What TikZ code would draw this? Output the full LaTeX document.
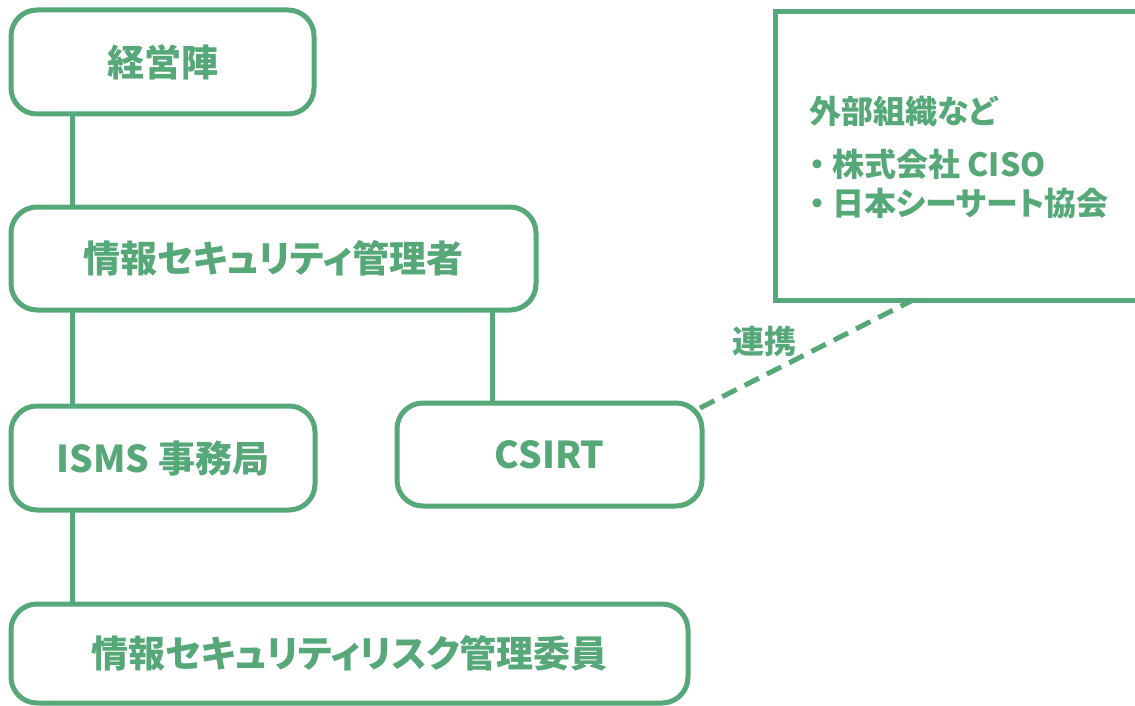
\documentclass[tikz,border=0pt]{standalone}
\usepackage{fontspec}
\newfontfamily\jp{Noto Sans CJK JP}[RawFeature=+palt]
\usetikzlibrary{calc}
\definecolor{grn}{RGB}{86,168,121}
\tikzset{
  orgbox/.style={draw=grn, line width=5pt, rounded corners=26pt, outer sep=0pt, inner sep=0pt,
    text=grn, font=\jp\bfseries\fontsize{37}{44}\selectfont, fill=white},
  extbox/.style={draw=grn, line width=5pt, outer sep=0pt, inner sep=0pt, fill=white},
  link/.style={draw=grn, line width=5pt},
  dlink/.style={draw=grn, line width=5pt, dash pattern=on 16pt off 9pt},
  smalltext/.style={text=grn, font=\jp\bfseries\fontsize{32}{39}\selectfont, inner sep=0pt}
}
\begin{document}
\begin{tikzpicture}[x=1pt,y=-1pt]
\useasboundingbox (0,0) rectangle (1135,706);
\clip (0,0) rectangle (1135,706);
\node[orgbox, minimum width=303pt, minimum height=104pt] (A) at (162.5,62) {経営陣};
\node[orgbox, minimum width=525pt, minimum height=103pt] (B) at (273.5,258.5) {情報セキュリティ管理者};
\node[orgbox, minimum width=304pt, minimum height=104pt] (I) at (163,458) {ISMS 事務局};
\node[orgbox, minimum width=305pt, minimum height=103pt] (C) at (549.5,454.5) {CSIRT};
\node[orgbox, minimum width=677pt, minimum height=99pt] (R) at (349.5,653.5) {情報セキュリティリスク管理委員};
\node[extbox, minimum width=385pt, minimum height=288pt] (E) at (967.5,156) {};
\node[smalltext, anchor=north west, align=left] (ET) at (809,96) {外部組織など\\[14pt]・\hspace{7pt}株式会社 CISO\\・\hspace{7pt}日本シーサート協会};
\node[smalltext, anchor=center] (L) at (764,341) {連携};
\draw[link] ([xshift=61pt]A.south west) -- ([xshift=61pt]B.north west);
\draw[link] ([xshift=61pt]B.south west) -- ([xshift=61pt]I.north west);
\draw[link] ([xshift=61pt]I.south west) -- ([xshift=61pt]R.north west);
\draw[link] ([xshift=95pt]C.north west) -- ([xshift=95pt]C.north west |- B.south);
\draw[dlink] ([shift={(-2pt,-5pt)}]C.north east) -- ([xshift=138pt]E.south west);
\end{tikzpicture}
\end{document}
